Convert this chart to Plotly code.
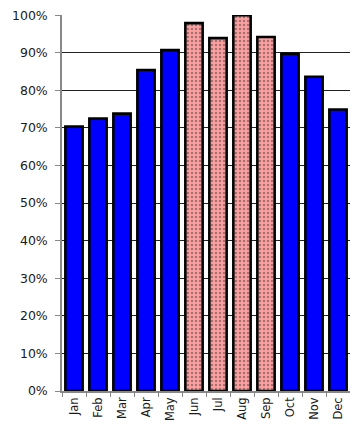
import plotly.graph_objects as go

months = ["Jan", "Feb", "Mar", "Apr", "May", "Jun", "Jul", "Aug", "Sep", "Oct", "Nov", "Dec"]
values = [0.704, 0.725, 0.738, 0.854, 0.907, 0.979, 0.939, 1.0, 0.942, 0.897, 0.836, 0.749]
highlight = [False, False, False, False, False, True, True, True, True, False, False, False]
y_ticks = [0, 0.1, 0.2, 0.3, 0.4, 0.5, 0.6, 0.7, 0.8, 0.9, 1.0]

colors = ["#ffa0a0" if h else "#0000ff" for h in highlight]
shapes = ["." if h else "" for h in highlight]

fig = go.Figure(go.Bar(
    x=months, y=values,
    width=0.72,
    cliponaxis=False,
    marker=dict(
        color=colors,
        line=dict(color="black", width=2.6),
        pattern=dict(shape=shapes, fgcolor="#ff2a2a",
                     size=4, solidity=0.3, fillmode="overlay"),
    ),
))

# page body has an 8px margin, so the figure is sized to fit inside the window
fig.update_layout(
    width=342, height=414,
    margin=dict(l=54, r=0, t=7, b=31),
    paper_bgcolor="white", plot_bgcolor="white",
    showlegend=False,
    font=dict(family="DejaVu Sans", size=12, color="#1a1a1a"),
)
fig.update_xaxes(
    range=[-0.5, 11.5],
    automargin=False,
    tickangle=-90,
    tickson="boundaries",
    ticks="outside", ticklen=4, tickcolor="#888",
    showline=True, linecolor="#888", linewidth=1.5,
    showgrid=False,
    tickfont=dict(size=11.5),
    ticklabeloverflow="allow",
)
fig.update_yaxes(
    range=[0, 1.0005],
    automargin=False,
    tickvals=y_ticks,
    tickformat=".0%",
    ticks="outside", ticklen=5, tickcolor="#888",
    showline=True, linecolor="#888", linewidth=1.5,
    showgrid=True, gridcolor="#222", gridwidth=1,
    zeroline=False,
    tickfont=dict(size=12.5),
    ticklabelstandoff=5,
    ticklabeloverflow="allow",
)

fig.write_html("out.html")
